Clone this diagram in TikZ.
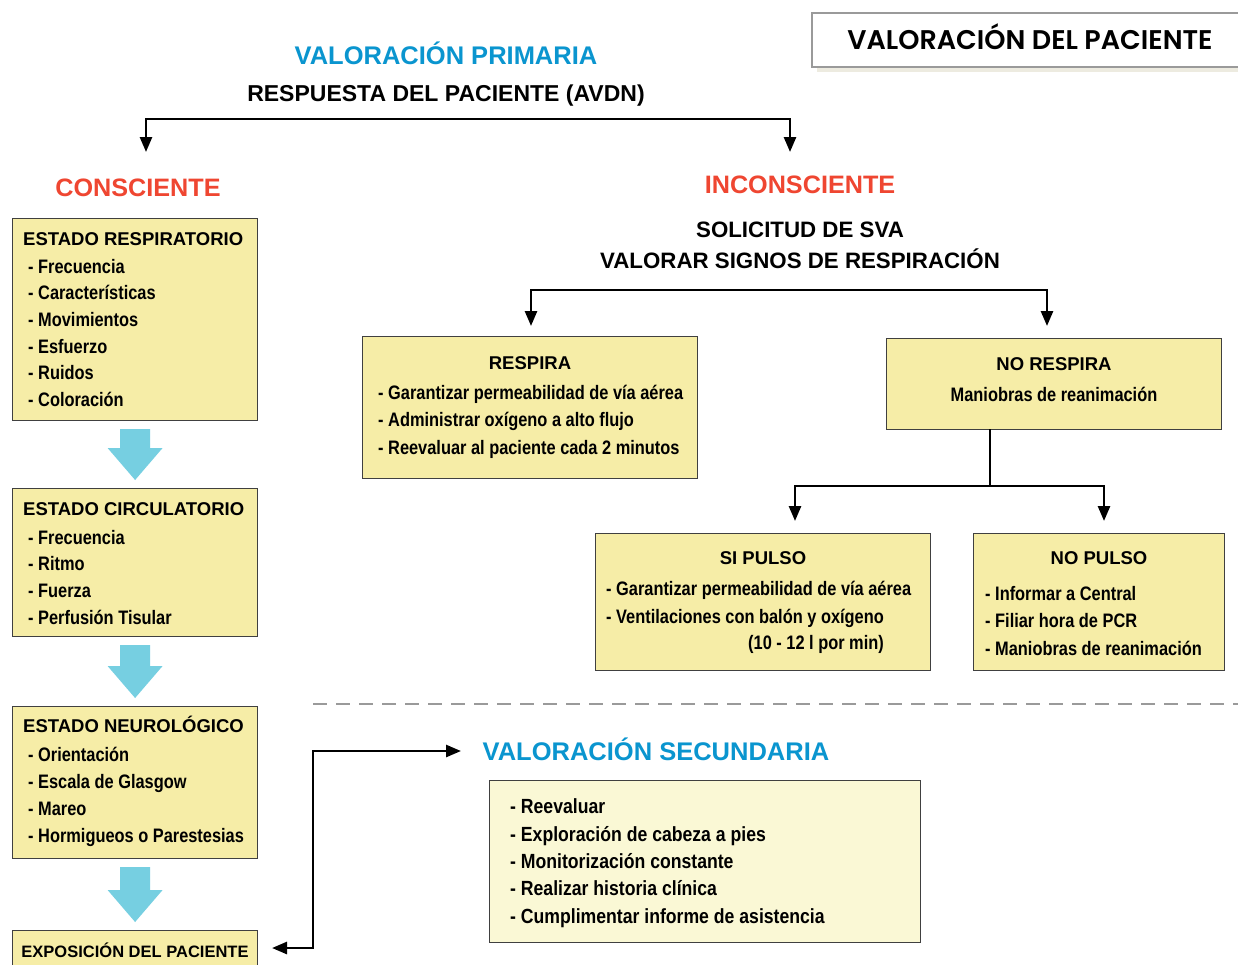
\documentclass[tikz,border=0pt]{standalone}
\usepackage{fontspec}
\usetikzlibrary{arrows.meta,calc}
\setmainfont{Liberation Sans}
\newfontfamily\cond{Liberation Sans}[FakeStretch=0.84]
\newfontfamily\condsec{Liberation Sans}[FakeStretch=0.86]
\newfontfamily\condh{Liberation Sans}
\newfontfamily\gothic{Poppins}[UprightFont=* SemiBold, BoldFont=* SemiBold]
\definecolor{boxfill}{HTML}{F6EDA7}
\definecolor{boxfill2}{HTML}{FAF8D5}
\definecolor{hblue}{HTML}{0A95CF}
\definecolor{hred}{HTML}{EF4631}
\definecolor{arrowblue}{HTML}{76CFE1}
\definecolor{titlegray}{HTML}{9A9A9A}
\definecolor{shadowc}{HTML}{EDEBE0}
\newcommand\downblock[2]{%
  \fill[arrowblue] ($(#1.south)+(-15,8)$) -- ($(#1.south)+(15,8)$)
    -- ($(#2.north)+(15,-40)$) -- ($(#2.north)+(27.5,-40)$)
    -- ($(#2.north)+(0,-8)$) -- ($(#2.north)+(-27.5,-40)$)
    -- ($(#2.north)+(-15,-40)$) -- cycle;}
\begin{document}
\begin{tikzpicture}[x=1pt,y=-1pt,
  >={Triangle[length=15pt,width=12pt]},
  box/.style={draw=black!75, line width=1.2pt, fill=boxfill, inner sep=0, anchor=north west},
  conn/.style={line width=2.6pt,<->},
  plainline/.style={line width=2.6pt},
  item/.style={font=\cond\bfseries\fontsize{19.5}{22}\selectfont, anchor=base west, inner sep=0},
  secitem/.style={font=\condsec\bfseries\fontsize{20.5}{22}\selectfont, anchor=base west, inner sep=0},
  bhead/.style={font=\condh\bfseries\fontsize{18.5}{22}\selectfont, inner sep=0, anchor=base},
  bigtitle/.style={font=\condh\bfseries\fontsize{25.5}{28}\selectfont, inner sep=0, anchor=base},
  redtitle/.style={font=\condh\bfseries\fontsize{25.2}{28}\selectfont, inner sep=0, anchor=base, text=hred},
  subtitle/.style={font=\bfseries\fontsize{22.3}{26}\selectfont, inner sep=0, anchor=base}
]
\useasboundingbox (0,0) rectangle (1238,964);
\fill[white] (0,0) rectangle (1238,964);

% title box
\fill[shadowc] (817,18) rectangle (1260,72);
\node[draw=titlegray, line width=2pt, fill=white, minimum width=450, minimum height=54, anchor=north west, inner sep=0] (title) at (811,12) {};
\node[font=\gothic\fontsize{27}{30}\selectfont, anchor=base, inner sep=0] (titletxt) at (1030,49) {VALORACIÓN DEL PACIENTE};

% primary headings
\node[bigtitle, text=hblue] (vp) at (446,64) {VALORACIÓN PRIMARIA};
\node[bigtitle, font=\condh\bfseries\fontsize{23}{26}\selectfont] (avdn) at (446,101) {RESPUESTA DEL PACIENTE (AVDN)};
\node[redtitle] (consc) at (138,196) {CONSCIENTE};
\node[redtitle] (incons) at (800,193) {INCONSCIENTE};
\node[subtitle] (sva) at (800,237) {SOLICITUD DE SVA};
\node[subtitle] (signos) at (800,268) {VALORAR SIGNOS DE RESPIRACIÓN};

\coordinate (aL) at (146,152);
\coordinate (aR) at (790,152);
\coordinate (m1) at (446,119);
\draw[conn] (aL) |- (m1) -| (aR);

% left column
\node[box, minimum width=245, minimum height=202] (respbox) at (12,218) {};
\node[bhead, anchor=base west] (rh) at (23,245) {ESTADO RESPIRATORIO};
\node[item] (r1) at (28,273) {- Frecuencia};
\node[item] (r2) at (28,299.7) {- Características};
\node[item] (r3) at (28,326.4) {- Movimientos};
\node[item] (r4) at (28,353) {- Esfuerzo};
\node[item] (r5) at (28,379.8) {- Ruidos};
\node[item] (r6) at (28,406.6) {- Coloración};

\node[box, minimum width=245, minimum height=148] (circbox) at (12,488) {};
\node[bhead, anchor=base west] (ch) at (23,515) {ESTADO CIRCULATORIO};
\node[item] (c1) at (28,544) {- Frecuencia};
\node[item] (c2) at (28,570.7) {- Ritmo};
\node[item] (c3) at (28,597.4) {- Fuerza};
\node[item] (c4) at (28,624) {- Perfusión Tisular};

\node[box, minimum width=245, minimum height=152] (neurobox) at (12,706) {};
\node[bhead, anchor=base west] (nh) at (23,732) {ESTADO NEUROLÓGICO};
\node[item] (n1) at (28,761) {- Orientación};
\node[item] (n2) at (28,788) {- Escala de Glasgow};
\node[item] (n3) at (28,815) {- Mareo};
\node[item] (n4) at (28,842) {- Hormigueos o Parestesias};

\node[box, minimum width=245, minimum height=60] (expobox) at (12,930) {};
\node[bhead, font=\condh\bfseries\fontsize{16.5}{20}\selectfont] (eh) at (135,957) {EXPOSICIÓN DEL PACIENTE};

\downblock{respbox}{circbox}
\downblock{circbox}{neurobox}
\downblock{neurobox}{expobox}

% inconsciente branch
\coordinate (bL) at (531,326);
\coordinate (bR) at (1047,326);
\coordinate (m2) at (800,290);
\draw[conn] (bL) |- (m2) -| (bR);

\node[box, minimum width=335, minimum height=142] (respira) at (362,336) {};
\node[bhead] (rph) at (530,369) {RESPIRA};
\node[item] (rp1) at (378,399.3) {- Garantizar permeabilidad de vía aérea};
\node[item] (rp2) at (378,426.7) {- Administrar oxígeno a alto flujo};
\node[item] (rp3) at (378,454.3) {- Reevaluar al paciente cada 2 minutos};

\node[box, minimum width=335, minimum height=91] (norespira) at (886,338) {};
\node[bhead] (nrh) at (1054,370) {NO RESPIRA};
\node[item, anchor=base] (nr1) at (1054,401.7) {Maniobras de reanimación};

\coordinate (stem) at (990,429);
\coordinate (split) at (990,486);
\coordinate (pL) at (795,521);
\coordinate (pR) at (1104,521);
\draw[plainline] (stem) -- (split);
\draw[conn] (pL) |- (split) -| (pR);

\node[box, minimum width=335, minimum height=137] (sipulso) at (595,533) {};
\node[bhead] (sph) at (763,564) {SI PULSO};
\node[item] (sp1) at (606,595) {- Garantizar permeabilidad de vía aérea};
\node[item] (sp2) at (606,623) {- Ventilaciones con balón y oxígeno};
\node[item, anchor=base east] (sp3) at (884,649) {(10 - 12 l por min)};

\node[box, minimum width=251, minimum height=137] (nopulso) at (973,533) {};
\node[bhead] (nph) at (1099,564) {NO PULSO};
\node[item] (np1) at (985,600) {- Informar a Central};
\node[item] (np2) at (985,627.7) {- Filiar hora de PCR};
\node[item] (np3) at (985,655) {- Maniobras de reanimación};

% dashed separator
\coordinate (dA) at (313,704);
\coordinate (dB) at (1238,704);
\draw[titlegray, line width=2pt, dash pattern=on 14pt off 9pt] (dA) -- (dB);

% secondary
\node[bigtitle, text=hblue] (vs) at (656,760) {VALORACIÓN SECUNDARIA};
\node[box, fill=boxfill2, minimum width=431, minimum height=162] (secbox) at (489,780) {};
\node[secitem] (s1) at (510,813.3) {- Reevaluar};
\node[secitem] (s2) at (510,841) {- Exploración de cabeza a pies};
\node[secitem] (s3) at (510,868.3) {- Monitorización constante};
\node[secitem] (s4) at (510,895) {- Realizar historia clínica};
\node[secitem] (s5) at (510,923) {- Cumplimentar informe de asistencia};

\coordinate (eA) at (272,948);
\coordinate (sA) at (461,751);
\draw[conn] (eA) -- ++(41,0) |- (sA);
\end{tikzpicture}
\end{document}
